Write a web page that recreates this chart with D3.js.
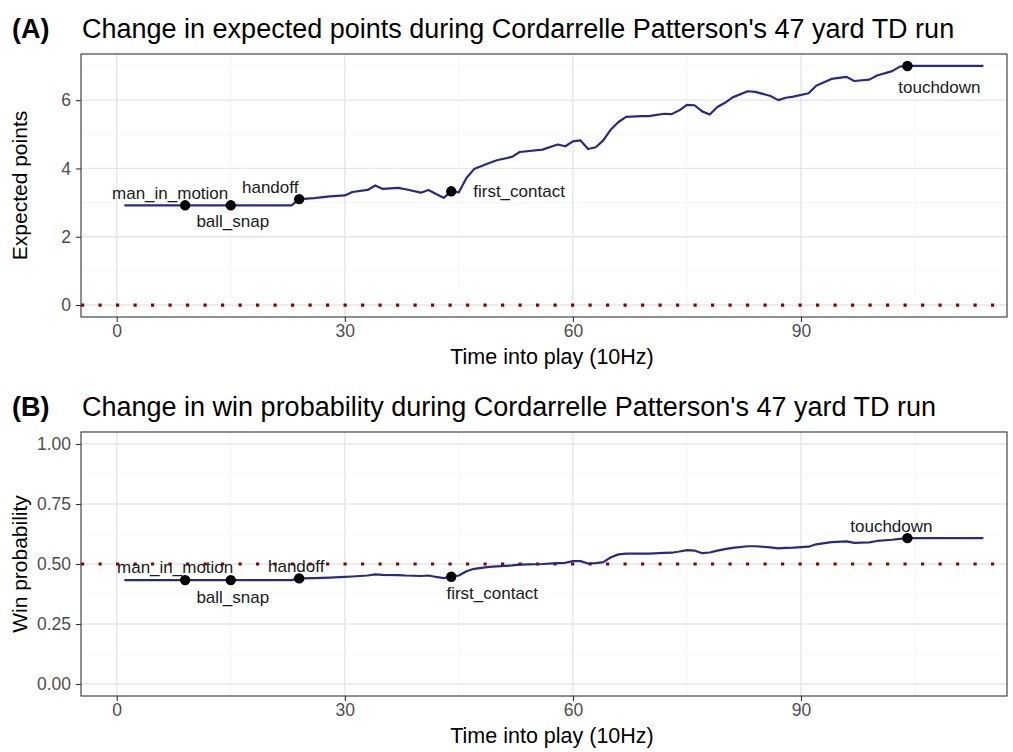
<html>
<head>
<script src="https://d3js.org/d3.v7.min.js"></script>
<style>
  body { margin: 0; background: white; }
  text { font-family: "Liberation Sans", Arial, sans-serif; }
</style>
</head>
<body>
<svg width="1013" height="752"></svg>
<script>
// frame (10Hz) into the play
var frames = [1, 9, 15, 23, 24, 26, 28, 30, 31, 33, 34, 35, 37, 38, 40, 41, 42, 43, 44, 45,
  46, 47, 49, 50, 52, 53, 56, 58, 59, 60, 61, 62, 63, 64, 65, 66, 67, 69, 70, 72,
  73, 74, 75, 76, 77, 78, 79, 80, 81, 83, 84, 86, 87, 88, 89, 91, 92, 94, 96, 97,
  99, 100, 102, 103, 104, 114];

var expectedPoints = [2.92, 2.92, 2.92, 2.92, 3.10, 3.13, 3.18, 3.21, 3.31, 3.37, 3.50, 3.40, 3.43, 3.39, 3.29, 3.37, 3.25, 3.14, 3.33, 3.30,
  3.72, 3.98, 4.16, 4.24, 4.34, 4.48, 4.55, 4.70, 4.65, 4.79, 4.82, 4.57, 4.62, 4.82, 5.14, 5.36, 5.51, 5.53, 5.53, 5.60,
  5.59, 5.70, 5.86, 5.85, 5.67, 5.58, 5.80, 5.92, 6.08, 6.26, 6.24, 6.12, 6.00, 6.07, 6.10, 6.20, 6.42, 6.62, 6.68, 6.56,
  6.60, 6.72, 6.85, 6.98, 7.00, 7.00];

var winProb = [0.433, 0.433, 0.433, 0.433, 0.440, 0.441, 0.443, 0.446, 0.448, 0.452, 0.457, 0.455, 0.454, 0.452, 0.450, 0.452, 0.446, 0.441, 0.447, 0.452,
  0.470, 0.480, 0.488, 0.490, 0.494, 0.497, 0.500, 0.504, 0.505, 0.512, 0.512, 0.502, 0.504, 0.508, 0.528, 0.540, 0.543, 0.543, 0.543, 0.546,
  0.547, 0.552, 0.558, 0.556, 0.545, 0.548, 0.556, 0.562, 0.567, 0.574, 0.574, 0.569, 0.565, 0.567, 0.568, 0.572, 0.582, 0.591, 0.594, 0.588,
  0.590, 0.596, 0.601, 0.605, 0.608, 0.608];

var eventNames = ["man_in_motion", "ball_snap", "handoff", "first_contact", "touchdown"];
var eventFrames = [9, 15, 24, 44, 104];

var xTicks = [0, 30, 60, 90];
var epTicks = [0, 2, 4, 6];
var wpTicks = [0, 0.25, 0.5, 0.75, 1];

var epRef = 0;
var wpRef = 0.5;

var svg = d3.select("svg");

var x = d3.scaleLinear().domain([-4.7, 117.1]).range([81, 1007]);

function drawPanel(cfg) {
  var g = svg.append("g");
  var y = d3.scaleLinear().domain(cfg.domain).range([cfg.bottom, cfg.top]);

  // minor grid
  var xMinor = xTicks.map(function(t) { return t + 15; });
  var yStep = cfg.ticks[1] - cfg.ticks[0];
  var yMinor = cfg.ticks.map(function(t) { return t + yStep / 2; });
  g.selectAll(".xmin").data(xMinor).enter().append("line")
    .attr("x1", d => x(d)).attr("x2", d => x(d))
    .attr("y1", cfg.top).attr("y2", cfg.bottom)
    .style("stroke", "#f2f2f2").style("stroke-width", 0.8);
  g.selectAll(".ymin").data(yMinor.filter(d => y(d) > cfg.top)).enter().append("line")
    .attr("x1", 81).attr("x2", 1007)
    .attr("y1", d => y(d)).attr("y2", d => y(d))
    .style("stroke", "#f2f2f2").style("stroke-width", 0.8);
  // major grid
  g.selectAll(".xmaj").data(xTicks).enter().append("line")
    .attr("x1", d => x(d)).attr("x2", d => x(d))
    .attr("y1", cfg.top).attr("y2", cfg.bottom)
    .style("stroke", "#e6e6e6").style("stroke-width", 1.4);
  g.selectAll(".ymaj").data(cfg.ticks).enter().append("line")
    .attr("x1", 81).attr("x2", 1007)
    .attr("y1", d => y(d)).attr("y2", d => y(d))
    .style("stroke", "#e6e6e6").style("stroke-width", 1.4);

  // reference dotted line
  g.append("line")
    .attr("x1", 81).attr("x2", 1007)
    .attr("y1", y(cfg.ref)).attr("y2", y(cfg.ref))
    .style("stroke", "#8b0000").style("stroke-width", 3.2)
    .style("stroke-dasharray", "3.2,14.3");

  // series line
  var line = d3.line().x(d => x(d[0])).y(d => y(d[1]));
  g.append("path")
    .datum(d3.zip(frames, cfg.values))
    .attr("d", line)
    .style("fill", "none").style("stroke", "#28288c").style("stroke-width", 2.2)
    .style("stroke-linejoin", "round");

  // event points
  var evts = eventNames.map(function(n, i) {
    var f = eventFrames[i];
    return { name: n, x: f, y: cfg.values[frames.indexOf(f)] };
  });
  g.selectAll(".pt").data(evts).enter().append("circle")
    .attr("cx", d => x(d.x)).attr("cy", d => y(d.y)).attr("r", 5.2)
    .style("fill", "black");
  g.selectAll(".lbl").data(evts).enter().append("text")
    .attr("x", d => x(d.x) + cfg.offsets[d.name][0])
    .attr("y", d => y(d.y) + cfg.offsets[d.name][1])
    .attr("text-anchor", d => cfg.offsets[d.name][2] || "middle")
    .style("font-size", "17px").style("fill", "#1a1a1a")
    .text(d => d.name);

  // panel border
  g.append("rect")
    .attr("x", 81).attr("y", cfg.top)
    .attr("width", 1007 - 81).attr("height", cfg.bottom - cfg.top)
    .style("fill", "none").style("stroke", "#333333").style("stroke-width", 1.1);

  // axes
  var yAxis = g.append("g").attr("transform", "translate(81,0)")
    .call(d3.axisLeft(y).tickValues(cfg.ticks).tickFormat(cfg.fmt).tickSize(5).tickPadding(5));
  var xAxis = g.append("g").attr("transform", "translate(0," + cfg.bottom + ")")
    .call(d3.axisBottom(x).tickValues(xTicks).tickFormat(d3.format("d")).tickSize(5).tickPadding(3));
  [yAxis, xAxis].forEach(function(a) {
    a.select(".domain").remove();
    a.selectAll("line").style("stroke", "#333333").style("stroke-width", 1.1);
    a.selectAll("text").style("font-size", "17.5px").style("fill", "#4d4d4d")
      .style("font-family", "Liberation Sans, Arial, sans-serif");
  });

  // axis titles
  g.append("text")
    .attr("transform", "translate(" + 27 + "," + ((cfg.top + cfg.bottom) / 2) + ") rotate(-90)")
    .attr("text-anchor", "middle")
    .style("font-size", "21px").style("fill", "black")
    .text(cfg.yTitle);
  g.append("text")
    .attr("x", 552).attr("y", cfg.bottom + 47)
    .attr("text-anchor", "middle")
    .style("font-size", "21.5px").style("fill", "black")
    .text("Time into play (10Hz)");

  // titles
  g.append("text")
    .attr("x", 12).attr("y", cfg.top - 16)
    .style("font-size", "27px").style("font-weight", "bold").style("fill", "black")
    .text(cfg.tag);
  g.append("text")
    .attr("x", 82).attr("y", cfg.top - 16)
    .style("font-size", "27px").style("fill", "black")
    .text(cfg.title);
}

drawPanel({
  top: 54, bottom: 317, domain: [-0.35, 7.35], ticks: epTicks, values: expectedPoints,
  ref: epRef, fmt: d3.format("d"), yTitle: "Expected points", tag: "(A)",
  title: "Change in expected points during Cordarrelle Patterson's 47 yard TD run",
  offsets: {
    man_in_motion: [-15, -6], ball_snap: [2, 22], handoff: [-29, -6],
    first_contact: [22, 6, "start"], touchdown: [32, 27]
  }
});

drawPanel({
  top: 432, bottom: 696, domain: [-0.05, 1.05], ticks: wpTicks, values: winProb,
  ref: wpRef, fmt: d3.format(".2f"), yTitle: "Win probability", tag: "(B)",
  title: "Change in win probability during Cordarrelle Patterson's 47 yard TD run",
  offsets: {
    man_in_motion: [-10, -7], ball_snap: [2, 23], handoff: [-3, -6],
    first_contact: [41, 22], touchdown: [-16, -6]
  }
});
</script>
</body>
</html>
